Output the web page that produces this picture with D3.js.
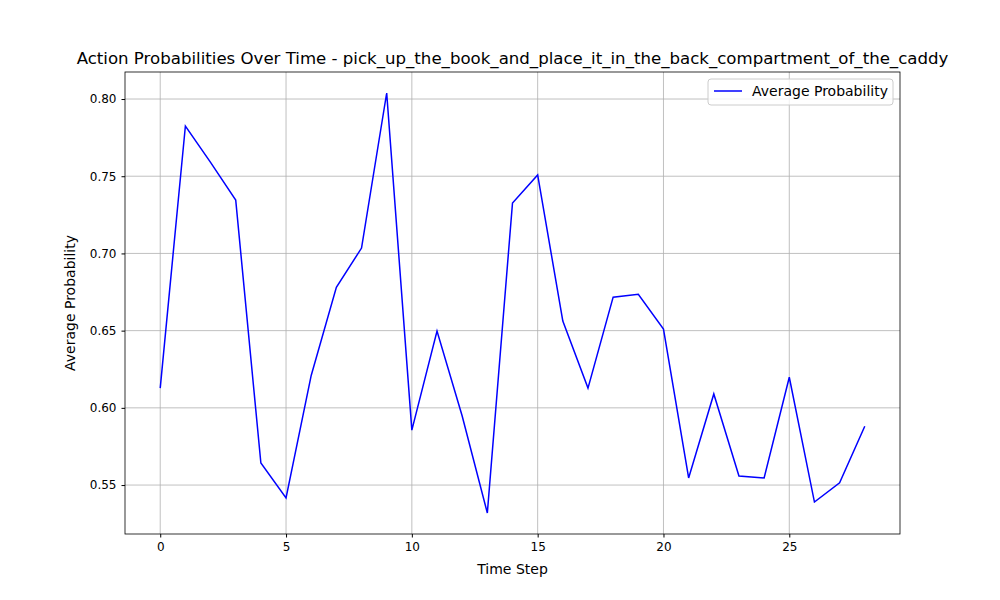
<!DOCTYPE html>
<html><head><meta charset="utf-8">
<script src="https://cdn.jsdelivr.net/npm/d3@7"></script>
<style>body{margin:0;background:#fff}text{font-family:"DejaVu Sans",sans-serif}</style>
</head><body>
<svg id="chart" width="1000" height="600"></svg>
<script>
var steps = d3.range(0, 29);
var probs = [0.6128, 0.7825, 0.759, 0.7346, 0.5643, 0.5416, 0.621, 0.678, 0.7035, 0.8039,
  0.5856, 0.6497, 0.5947, 0.5319, 0.7327, 0.7508, 0.6562, 0.6128, 0.6717, 0.6736,
  0.651, 0.5546, 0.609, 0.5559, 0.5546, 0.6198, 0.539, 0.5514, 0.5881];
var xTicks = [0, 5, 10, 15, 20, 25];
var yTicks = [0.55, 0.60, 0.65, 0.70, 0.75, 0.80];

var svg = d3.select('#chart');
var L = 125, R = 900, T = 72, B = 534;
var x = d3.scaleLinear().domain([-1.4, 29.4]).range([L, R]);
var y = d3.scaleLinear().domain([0.5183, 0.8175]).range([B, T]);

// grid
svg.append('g').selectAll('line').data(xTicks).enter().append('line')
  .attr('x1', x).attr('x2', x).attr('y1', T).attr('y2', B)
  .attr('stroke', '#b0b0b0').attr('stroke-width', 0.8);
svg.append('g').selectAll('line').data(yTicks).enter().append('line')
  .attr('y1', y).attr('y2', y).attr('x1', L).attr('x2', R)
  .attr('stroke', '#b0b0b0').attr('stroke-width', 0.8);

var xa = svg.append('g').attr('transform', 'translate(0,' + B + ')')
  .call(d3.axisBottom(x).tickValues(xTicks).tickSize(3.5).tickPadding(5).tickFormat(d3.format('d')));
var ya = svg.append('g').attr('transform', 'translate(' + L + ',0)')
  .call(d3.axisLeft(y).tickValues(yTicks).tickSize(3.5).tickPadding(5).tickFormat(d3.format('.2f')));
[xa, ya].forEach(function (a) {
  a.select('.domain').remove();
  a.selectAll('text').attr('font-size', 12).attr('fill', '#000');
});

svg.append('path').datum(steps)
  .attr('fill', 'none').attr('stroke', 'blue').attr('stroke-width', 1.5)
  .attr('d', d3.line().x(function (d) { return x(d); }).y(function (d) { return y(probs[d]); }));

svg.append('rect').attr('x', L).attr('y', T).attr('width', R - L).attr('height', B - T)
  .attr('fill', 'none').attr('stroke', '#000').attr('stroke-width', 0.8);

svg.append('text').attr('x', (L + R) / 2 + 0).attr('y', 64).attr('text-anchor', 'middle')
  .attr('font-size', 16.6).text('Action Probabilities Over Time - pick_up_the_book_and_place_it_in_the_back_compartment_of_the_caddy');
svg.append('text').attr('x', (L + R) / 2).attr('y', 574).attr('text-anchor', 'middle')
  .attr('font-size', 14).text('Time Step');
svg.append('text').attr('transform', 'translate(75,' + (T + B) / 2 + ') rotate(-90)')
  .attr('text-anchor', 'middle').attr('font-size', 14).text('Average Probability');

// legend
var lg = svg.append('g').attr('transform', 'translate(708,79)');
lg.append('rect').attr('width', 185).attr('height', 26).attr('rx', 3)
  .attr('fill', '#fff').attr('fill-opacity', 0.8).attr('stroke', '#ccc');
lg.append('line').attr('x1', 6).attr('x2', 34).attr('y1', 12).attr('y2', 12)
  .attr('stroke', 'blue').attr('stroke-width', 1.5);
lg.append('text').attr('x', 44).attr('y', 17).attr('font-size', 14).text('Average Probability');
</script>
</body></html>
